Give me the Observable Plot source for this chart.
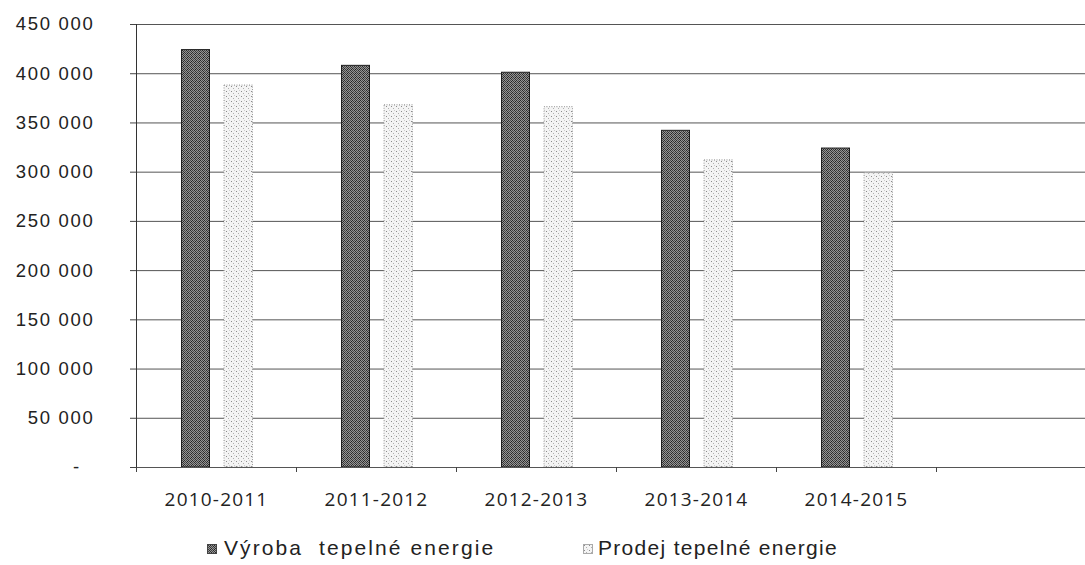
<!DOCTYPE html>
<html>
<head>
<meta charset="utf-8">
<script src="https://cdn.jsdelivr.net/npm/d3@7"></script>
<script src="https://cdn.jsdelivr.net/npm/@observablehq/plot@0.6"></script>
<style>
  html, body { margin: 0; padding: 0; background: #fff; }
  #wrap { width: 1085px; height: 565px; position: relative; overflow: hidden; }
  g[aria-label="y-axis tick label"] text { letter-spacing: 1.7px; }
  g[aria-label="x-axis tick label"] text { letter-spacing: 1.2px; }
  #legend { position: absolute; left: 0; top: 515px; width: 1085px; height: 50px;
            font-family: "Liberation Sans", Arial, sans-serif; font-size: 21px; color: #222; letter-spacing: 1.3px; }
  .item { position: absolute; top: 21px; white-space: pre; line-height: 24px; }
  .sw { position: absolute; top: 29px; width: 10px; height: 10px; }
</style>
</head>
<body>
<div id="wrap"></div>
<script>
const seasons = ["2010-2011", "2011-2012", "2012-2013", "2013-2014", "2014-2015"];
const vyroba = [424000, 408000, 401000, 342000, 324000];
const prodej = [388000, 368000, 366000, 312000, 299000];
const yTicks = [0, 50000, 100000, 150000, 200000, 250000, 300000, 350000, 400000, 450000];
const seriesNames = ["Výroba\u00a0 tepelné energie", "Prodej tepelné energie"];

const cats = seasons.concat([" "]);
const rows = seasons.map((s, i) => ({season: s, vyroba: vyroba[i], prodej: prodej[i]}));
const fmt = d => d === 0 ? "-\u00a0\u00a0" : d3.format(",")(d).replace(/,/g, " ");

const svg = Plot.plot({
  width: 1085, height: 515,
  marginTop: 24, marginBottom: 48, marginLeft: 136, marginRight: 0,
  style: {background: "white", color: "#222", fontFamily: "Liberation Sans, Arial, sans-serif"},
  x: {domain: cats, range: [136, 1096], padding: 0, axis: null},
  y: {domain: [0, 450000], axis: null},
  marks: [
    Plot.ruleY(yTicks, {stroke: "#555", strokeWidth: 1}),
    Plot.barY(rows, {x: "season", y: "vyroba", fill: "url(#pDark)", stroke: "#1e1e1e", strokeWidth: 1, insetLeft: 45.5, insetRight: 86.5}),
    Plot.barY(rows, {x: "season", y: "prodej", fill: "url(#pLight)", stroke: "#9a9a9a", strokeWidth: 1, strokeDasharray: "1,1.5", insetLeft: 88, insetRight: 43.5}),
    Plot.ruleY([0], {stroke: "#555"}),
    Plot.frame({anchor: "left", stroke: "#333"}),
    Plot.axisY(yTicks, {tickSize: 6, tickPadding: 36, tickFormat: fmt, fontSize: 18.5, stroke: "#444", label: null}),
    Plot.axisX({tickSize: 5, tickFormat: () => "", dx: -80, stroke: "#444", label: null}),
    Plot.axisX({tickSize: 0, tickPadding: 25, fontSize: 19, fontFamily: "Open Sans, sans-serif", label: null})
  ]
});

d3.select(svg).insert("defs", ":first-child").html(`
  <pattern id="pDark" width="4" height="4" patternUnits="userSpaceOnUse">
    <rect width="4" height="4" fill="#959595"/>
    <rect x="0" y="0" width="1" height="1" fill="#2a2a2a"/>
    <rect x="2" y="0" width="1" height="1" fill="#4a4a4a"/>
    <rect x="1" y="1" width="1" height="1" fill="#3a3a3a"/>
    <rect x="3" y="1" width="1" height="1" fill="#222"/>
    <rect x="0" y="2" width="1" height="1" fill="#444"/>
    <rect x="2" y="2" width="1" height="1" fill="#2a2a2a"/>
    <rect x="1" y="3" width="1" height="1" fill="#4a4a4a"/>
    <rect x="3" y="3" width="1" height="1" fill="#333"/>
  </pattern>
  <pattern id="pLight" width="5" height="5" patternUnits="userSpaceOnUse">
    <rect width="5" height="5" fill="#f4f4f4"/>
    <rect x="1" y="1" width="1" height="1" fill="#8c8c8c"/>
    <rect x="3" y="3" width="1" height="1" fill="#b0b0b0"/>
    <rect x="4" y="0" width="1" height="1" fill="#cfcfcf"/>
  </pattern>`);

const wrap = document.getElementById("wrap");
wrap.appendChild(svg);

const legend = document.createElement("div");
legend.id = "legend";
legend.innerHTML = `
  <svg class="sw" style="left:207px" viewBox="0 0 10 10"><rect x="0.5" y="0.5" width="9" height="9" fill="url(#pDark)" stroke="#444"/></svg>
  <div class="item" style="left:224px; letter-spacing:2.1px">${seriesNames[0]}</div>
  <svg class="sw" style="left:583px" viewBox="0 0 10 10"><rect x="0.5" y="0.5" width="9" height="9" fill="url(#pLight)" stroke="#aaa"/></svg>
  <div class="item" style="left:598px">${seriesNames[1]}</div>`;
wrap.appendChild(legend);
</script>
</body>
</html>
